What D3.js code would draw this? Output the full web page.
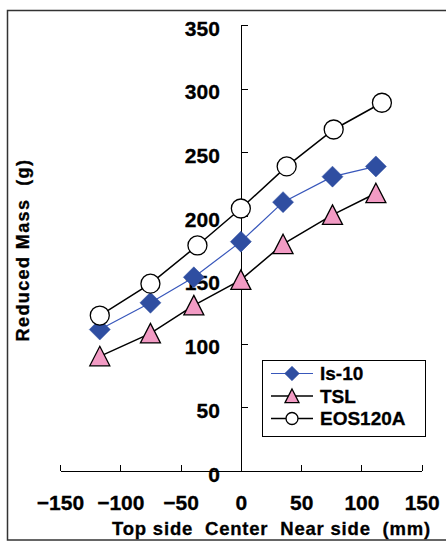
<!doctype html>
<html>
<head>
    <meta charset="utf-8">
    <style>
        body {
            margin: 0;
            background: white;
        }

        svg {
            display: block;
        }

        text {
            font-family: "Liberation Sans", Arial, sans-serif;
            font-weight: bold;
            fill: black;
            stroke: black;
            stroke-width: 0.3;
        }

        .axis path, .axis line {
            stroke: black;
            stroke-width: 1;
            shape-rendering: crispEdges;
        }

        .axis text {
            font-size: 21px;
        }
    </style>
    <script src="https://d3js.org/d3.v7.min.js"></script>
</head>
<body>
<script>
    // values
    const seriesNames = ['Is-10', 'TSL', 'EOS120A']
    const posIs10 = [-117, -75, -39, 0, 35, 76, 112]
    const massIs10 = [111, 132, 152, 180, 211, 231, 239]
    const posTSL = [-117, -75, -39, 0, 35, 76, 112]
    const massTSL = [90, 108, 130, 150, 178, 201, 218]
    const posEOS = [-117, -75, -36, 0, 38, 77, 117]
    const massEOS = [122, 147, 177, 206, 239, 268, 289]

    const xTicks = [-150, -100, -50, 0, 50, 100, 150]
    const yTicks = [0, 50, 100, 150, 200, 250, 300, 350]

    const W = 446, H = 541

    const svg = d3.select('body').append('svg')
        .attr('width', W)
        .attr('height', H)

    // outer frame (runs off the right edge)
    svg.append('rect')
        .attr('x', 7.5).attr('y', 10.5)
        .attr('width', 460).attr('height', 529.5)
        .attr('fill', 'none')
        .attr('stroke', '#333')
        .attr('stroke-width', 1.5)

    const x = d3.scaleLinear().domain([-150, 150]).range([60, 421.7])
    const y = d3.scaleLinear().domain([0, 350]).range([471, 25])

    const minus = s => String(s).replace('-', '\u2212')

    // x axis, ticks pointing up
    svg.append('g')
        .attr('class', 'axis')
        .attr('transform', `translate(0,${y(0)})`)
        .call(d3.axisBottom(x).tickValues(xTicks).tickSizeInner(-6).tickSizeOuter(0).tickPadding(24)
            .tickFormat(minus))

    // y axis sits on x = 0, ticks pointing right
    svg.append('g')
        .attr('class', 'axis')
        .attr('transform', `translate(${x(0)},0)`)
        .call(d3.axisLeft(y).tickValues(yTicks).tickSizeInner(-7).tickSizeOuter(0).tickPadding(21))
        .call(g => g.selectAll('text').attr('dy', '0.48em'))

    // titles
    svg.append('text')
        .attr('transform', `translate(29,250) rotate(-90)`)
        .attr('text-anchor', 'middle')
        .style('font-size', '18px')
        .style('letter-spacing', '1.4px')
        .style('white-space', 'pre')
        .text('Reduced Mass  (g)')

    svg.append('text')
        .attr('x', 112).attr('y', 535)
        .style('font-size', '18.5px')
        .style('letter-spacing', '0.8px')
        .style('white-space', 'pre')
        .text('Top side  Center  Near side  (mm)')

    // marker shapes
    const diamond = s => `M0,${-s}L${s},0L0,${s}L${-s},0Z`
    const triangle = s => `M0,${-s}L${s},${s * 0.95}L${-s},${s * 0.95}Z`

    const series = [
        {name: seriesNames[0], xs: posIs10, ys: massIs10, line: '#3857bb', lw: 1.2, shape: 'diamond', fill: '#2f4ea1', stroke: '#2f4ea1'},
        {name: seriesNames[1], xs: posTSL, ys: massTSL, line: 'black', lw: 1.5, shape: 'triangle', fill: '#f29bc4', stroke: 'black'},
        {name: seriesNames[2], xs: posEOS, ys: massEOS, line: 'black', lw: 1.5, shape: 'circle', fill: 'white', stroke: 'black'}
    ]

    function drawMarker(g, s, size) {
        if (s.shape === 'circle') {
            g.append('circle').attr('r', size * 0.95)
                .attr('fill', s.fill).attr('stroke', s.stroke).attr('stroke-width', 1.3)
        } else {
            g.append('path')
                .attr('d', s.shape === 'diamond' ? diamond(size * 1.05) : triangle(size))
                .attr('fill', s.fill).attr('stroke', s.stroke).attr('stroke-width', s.shape === 'diamond' ? 0.5 : 1.3)
        }
    }

    const line = d3.line().x(d => x(d[0])).y(d => y(d[1]))

    series.forEach(function (s) {
        const pts = s.xs.map((v, i) => [v, s.ys[i]])
        svg.append('path')
            .attr('d', line(pts))
            .attr('fill', 'none')
            .attr('stroke', s.line)
            .attr('stroke-width', s.lw)

        svg.append('g').selectAll('g').data(pts).enter()
            .append('g')
            .attr('transform', d => `translate(${x(d[0])},${y(d[1])})`)
            .each(function () { drawMarker(d3.select(this), s, 10) })
    })

    // legend
    const legend = svg.append('g').attr('transform', 'translate(262,360)')
    legend.append('rect')
        .attr('x', 0.5).attr('y', 0.5)
        .attr('width', 163).attr('height', 76)
        .attr('fill', 'white')
        .attr('stroke', 'black')
        .attr('stroke-width', 1)

    series.forEach(function (s, i) {
        const row = legend.append('g').attr('transform', `translate(0,${13.5 + i * 22.5})`)
        row.append('line')
            .attr('x1', 9).attr('x2', 51)
            .attr('stroke', s.line).attr('stroke-width', s.lw)
        const m = row.append('g').attr('transform', 'translate(30,0)')
        drawMarker(m, s, s.shape === 'circle' ? 6.3 : 7)
        row.append('text')
            .attr('x', 58).attr('dy', '0.36em')
            .style('font-size', '19px')
            .text(s.name)
    })
</script>
</body>
</html>
